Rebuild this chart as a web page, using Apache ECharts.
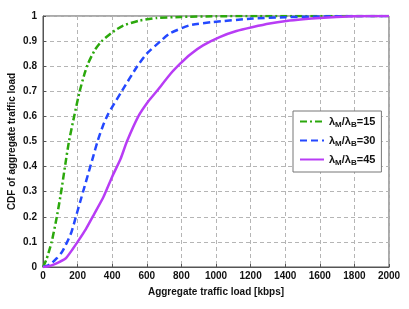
<!DOCTYPE html>
<html><head><meta charset="utf-8">
<script src="https://cdn.jsdelivr.net/npm/echarts@6/dist/echarts.min.js"></script>
<style>html,body{margin:0;padding:0;background:#fff}#c{width:409px;height:309px}</style>
</head><body><div id="c"></div>
<script>
const xTicks = [0,200,400,600,800,1000,1200,1400,1600,1800,2000];
const seriesNames = ['{a|λ}{s|M}{a|/λ}{s|B}{a|=15}', '{a|λ}{s|M}{a|/λ}{s|B}{a|=30}', '{a|λ}{s|M}{a|/λ}{s|B}{a|=45}'];
const loadG = [0,20,50,80,105,127,150,180,212,240,260,300,340,400,464,560,657,793,1000,1200,2000];
const cdfG  = [0,0.03,0.1,0.2,0.3,0.4,0.5,0.6,0.7,0.77,0.81,0.865,0.9,0.935,0.962,0.982,0.992,0.996,0.999,1,1];
const loadB = [0,25,50,80,110,140,165,190,215,240,265,290,315,345,377,455,545,600,680,732,848,983,1214,1400,1600,1800,2000];
const cdfB  = [0,0.005,0.015,0.035,0.06,0.1,0.14,0.2,0.26,0.32,0.38,0.44,0.5,0.56,0.61,0.7,0.8,0.85,0.9,0.93,0.963,0.976,0.99,0.995,0.998,1,1];
const loadP = [0,40,75,132,170,200,247,295,350,400,448,485,551,609,657,735,793,851,925,1021,1118,1214,1310,1406,1503,1599,1696,1800,2000];
const cdfP  = [0,0.004,0.013,0.035,0.07,0.1,0.15,0.21,0.28,0.36,0.43,0.5,0.6,0.66,0.7,0.768,0.81,0.847,0.883,0.916,0.94,0.956,0.97,0.98,0.987,0.992,0.996,0.999,1];

const zip = (xs, ys) => xs.map((x, i) => [x, ys[i]]);
const font = '"Liberation Sans", Arial, sans-serif';
const chart = echarts.init(document.getElementById('c'));
const mk = (name, xs, ys, color, type) => ({
  name, type: 'line', data: zip(xs, ys), showSymbol: false, symbol: 'none', smooth: 0.2,
  lineStyle: { color, width: 2.5, type }, itemStyle: { color }
});
chart.setOption({
  animation: false,
  backgroundColor: '#fff',
  grid: { left: 43, right: 20, top: 16, bottom: 42, show: true, borderColor: '#555', borderWidth: 1,
          containLabel: false, outerBoundsMode: 'none' },
  legend: {
    orient: 'vertical', left: 293, top: 111,
    backgroundColor: '#fff', borderColor: '#777', borderWidth: 1,
    padding: [5, 6, 5, 6], itemGap: 6, itemWidth: 24, itemHeight: 13,
    itemStyle: { opacity: 0 },
    data: seriesNames,
    formatter: n => n,
    textStyle: {
      rich: {
        a: { fontFamily: font, fontWeight: 'bold', fontSize: 11, color: '#111' },
        s: { fontFamily: font, fontWeight: 'bold', fontSize: 8, color: '#111', verticalAlign: 'bottom', padding: [7, 0, 0, 0] }
      }
    }
  },
  xAxis: {
    type: 'value', min: 0, max: 2000, interval: 200,
    name: 'Aggregate traffic load [kbps]', nameLocation: 'middle', nameGap: 20, nameMoveOverlap: false,
    nameTextStyle: { fontFamily: font, fontWeight: 'bold', fontSize: 10, color: '#111' },
    axisLine: { show: true, lineStyle: { color: '#555' } },
    axisTick: { show: true, inside: true, length: 3, lineStyle: { color: '#555' } },
    axisLabel: { fontFamily: font, fontWeight: 'bold', fontSize: 10, color: '#111', margin: 4,
      formatter: v => xTicks.includes(v) ? String(v) : '' },
    splitLine: { show: true, lineStyle: { color: '#b5b5b5', type: [4, 3], width: 1 } }
  },
  yAxis: {
    type: 'value', min: 0, max: 1, interval: 0.1,
    name: 'CDF of aggregate traffic load', nameLocation: 'middle', nameGap: 26, nameMoveOverlap: false,
    nameTextStyle: { fontFamily: font, fontWeight: 'bold', fontSize: 10, color: '#111' },
    axisLine: { show: true, lineStyle: { color: '#555' } },
    axisTick: { show: true, inside: true, length: 3, lineStyle: { color: '#555' } },
    axisLabel: { fontFamily: font, fontWeight: 'bold', fontSize: 10, color: '#111', margin: 6,
      formatter: v => String(Math.round(v * 10) / 10) },
    splitLine: { show: true, lineStyle: { color: '#b5b5b5', type: [4, 3], width: 1 } }
  },
  series: [
    mk(seriesNames[0], loadG, cdfG, '#2ba80c', [7, 3, 2, 3]),
    mk(seriesNames[1], loadB, cdfB, '#2448ff', [7, 4]),
    mk(seriesNames[2], loadP, cdfP, '#b83cf5', 'solid')
  ]
});
</script></body></html>
